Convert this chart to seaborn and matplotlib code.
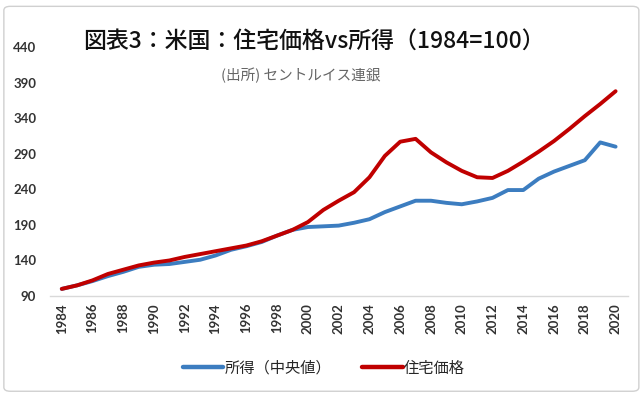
import matplotlib
matplotlib.use("Agg")
import matplotlib.pyplot as plt
import seaborn as sns
import pandas as pd
from matplotlib.patches import FancyBboxPatch
from matplotlib.lines import Line2D

years = list(range(1984, 2021))
income = [100, 105, 111, 118, 124, 131, 134, 135, 138, 141, 147, 155, 160, 166,
          175, 183, 187, 188, 189, 193, 198, 208, 216, 224, 224, 221, 219, 223,
          228, 239, 239, 255, 265, 273, 281, 306, 300]
house = [100, 105, 112, 121, 127, 133, 137, 140, 145, 149, 153, 157, 161, 167,
         175, 183, 194, 211, 224, 236, 257, 287, 307, 311, 292, 278, 266, 257,
         256, 266, 279, 293, 308, 325, 343, 360, 378]
series_names = ["所得（中央値）", "住宅価格"]
colors = ["#3C7DC0", "#C00000"]
yticks = [90, 140, 190, 240, 290, 340, 390, 440]
xticks = list(range(1984, 2021, 2))
title = "図表3：米国：住宅価格vs所得（1984=100）"
subtitle = "(出所) セントルイス連銀"

sns.set_theme(style="white")
plt.rcParams['font.family'] = ['Noto Sans CJK JP', 'DejaVu Sans']

df = pd.DataFrame({
    "year": years * 2,
    "value": income + house,
    "series": [series_names[0]] * len(years) + [series_names[1]] * len(years),
})

fig = plt.figure(figsize=(6.44, 3.96), dpi=100)
ax = fig.add_axes([0.078, 0.2525, 0.897, 0.6285])
sns.lineplot(data=df, x="year", y="value", hue="series", palette=colors,
             linewidth=2.8, ax=ax, legend=False)

ax.set_xlim(1983.25, 2020.8)
ax.set_ylim(90, 440)
ax.set_yticks(yticks)
ax.set_yticklabels([str(v) for v in yticks], fontsize=9.5, fontweight="bold",
                   color="#333333", family="Lato")
ax.set_xticks(xticks)
ax.set_xticklabels([str(v) for v in xticks], rotation=90, fontsize=9.5,
                   fontweight="bold", color="#333333", family="Lato")
ax.tick_params(axis="y", length=0, pad=10)
ax.tick_params(axis="x", length=0, pad=5)
ax.set_xlabel("")
ax.set_ylabel("")
for s in ["top", "right", "left"]:
    ax.spines[s].set_visible(False)
ax.spines["bottom"].set_color("#D9D9D9")
ax.spines["bottom"].set_linewidth(1.0)
ax.grid(False)

fig.text(0.488, 0.895, title, ha="center", va="center", fontsize=16.5,
         fontweight="medium", color="#111111",
         family=["Noto Sans CJK JP", "DejaVu Sans"])
fig.text(0.467, 0.81, subtitle, ha="center", va="center", fontsize=10.5,
         color="#666666", family=["Noto Sans CJK JP", "DejaVu Sans"])

handles = [Line2D([0], [0], color=c, lw=3.2) for c in colors]
fig.legend(handles, series_names, loc="center", bbox_to_anchor=(0.503, 0.07),
           ncol=2, frameon=False, handlelength=2.65,
           handletextpad=0.1, columnspacing=2.0,
           prop={"family": ["Noto Sans CJK JP", "DejaVu Sans"], "size": 11})

border = FancyBboxPatch((0.006, 0.012), 0.986, 0.972, boxstyle="round,pad=0,rounding_size=0.01",
                        transform=fig.transFigure, fill=False, edgecolor="#D0D0D0", lw=1.0)
fig.patches.append(border)

fig.savefig("out.png", dpi=100)
